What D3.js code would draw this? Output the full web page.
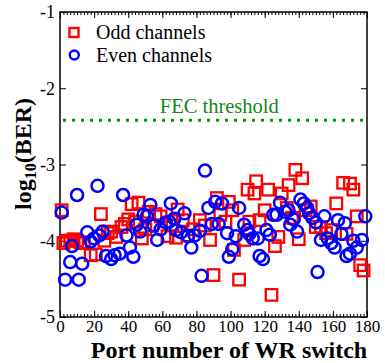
<!DOCTYPE html>
<html><head><meta charset="utf-8">
<script src="https://cdn.jsdelivr.net/npm/d3@7"></script>
<style>body{margin:0;background:#fff}</style>
</head><body>
<svg id="c" width="385" height="363"></svg>
<script>
const oddPorts = [1,2,4,6,8,10,12,14,18,21,24,26,28,30,33,36,38,40,42,44,46,48,50,52,54,56,59,63,66,68,69,72,75,78,82,85,88,90,92,94,97,99,101,102,105,108,110,111,114,115,117,120,122,124,126,128,130,133,134,136,138,140,142,144,147,150,153,156,159,162,166,168,170,172,174,176,178];
const oddBER = [-3.60,-4.03,-4.00,-4.00,-3.98,-4.00,-4.02,-4.03,-4.19,-4.18,-3.65,-4.00,-3.90,-3.88,-3.95,-3.82,-3.78,-3.72,-3.52,-3.75,-3.50,-3.97,-3.85,-3.62,-3.80,-3.65,-3.68,-3.94,-3.80,-3.96,-3.59,-3.73,-3.93,-3.85,-3.73,-3.80,-3.99,-4.45,-3.44,-3.66,-3.75,-3.49,-3.60,-4.12,-4.51,-3.99,-3.33,-3.75,-3.38,-3.22,-3.73,-3.60,-3.33,-4.71,-4.07,-3.95,-3.38,-3.57,-3.27,-3.70,-3.07,-3.98,-3.18,-3.60,-3.55,-3.82,-3.82,-3.90,-3.86,-3.51,-3.24,-3.91,-3.25,-3.33,-3.68,-4.32,-4.39];
const evenPorts = [1,3,6,7,10,11,13,16,18,20,22,23,25,27,30,32,35,37,39,41,43,45,47,49,51,53,55,57,59,62,64,65,67,68,71,73,75,77,79,82,83,85,87,89,91,93,95,98,99,101,103,105,108,110,111,113,116,117,119,121,123,125,127,129,132,134,135,137,139,141,143,145,146,148,150,151,153,155,157,159,161,163,165,167,168,170,172,174,177,179];
const evenBER = [-3.63,-4.51,-4.28,-4.07,-3.40,-4.51,-4.30,-3.89,-4.01,-3.97,-3.28,-3.93,-3.88,-4.20,-4.24,-4.19,-4.17,-3.40,-3.93,-4.09,-4.21,-3.79,-3.88,-3.66,-3.68,-3.53,-3.80,-3.99,-3.85,-3.76,-3.75,-3.51,-3.71,-3.86,-3.89,-3.64,-3.94,-4.09,-3.93,-3.87,-4.46,-3.08,-3.57,-3.78,-3.49,-3.78,-3.51,-3.90,-4.21,-4.11,-3.94,-3.57,-3.79,-3.86,-3.91,-3.97,-3.97,-4.20,-4.24,-3.86,-3.92,-3.66,-3.66,-3.50,-3.62,-3.60,-3.79,-3.72,-3.88,-3.46,-3.51,-3.57,-3.64,-3.70,-3.76,-4.41,-3.99,-3.68,-3.97,-4.03,-4.09,-3.73,-3.91,-3.77,-4.20,-4.17,-4.00,-4.09,-3.99,-3.68];
const fecThreshold = -2.42;
const xTicks = [0,20,40,60,80,100,120,140,160,180];
const yTicks = [-5,-4,-3,-2,-1];
const legendLabels = ["Odd channels","Even channels"];

const svg = d3.select("#c");
const L=60, R=367, T=12, B=317;
const x = d3.scaleLinear().domain([0,180]).range([L,R]);
const y = d3.scaleLinear().domain([-5,-1]).range([B,T]);
const font = "'Liberation Serif','Times New Roman',serif";

// frame
svg.append("rect").attr("x",L).attr("y",T).attr("width",R-L).attr("height",B-T)
  .attr("fill","none").attr("stroke","#000").attr("stroke-width",1.5);

// axes
const minor = d3.range(0,181,2);
const gb = svg.append("g").attr("transform",`translate(0,${B})`);
gb.call(d3.axisBottom(x).tickValues(minor).tickSize(-3).tickFormat(""));
gb.select(".domain").remove();
const gb2 = svg.append("g").attr("transform",`translate(0,${B})`);
gb2.call(d3.axisBottom(x).tickValues(xTicks).tickSize(-6).tickPadding(3).tickFormat(d3.format("d")));
gb2.select(".domain").remove();
gb2.selectAll("text").attr("font-family",font).attr("font-size",17).attr("fill","#000");
const gt = svg.append("g").attr("transform",`translate(0,${T})`);
gt.call(d3.axisTop(x).tickValues(minor).tickSize(-3).tickFormat(""));
gt.select(".domain").remove();
const gt2 = svg.append("g").attr("transform",`translate(0,${T})`);
gt2.call(d3.axisTop(x).tickValues(xTicks).tickSize(-6).tickFormat(""));
gt2.select(".domain").remove();
const gl = svg.append("g").attr("transform",`translate(${L},0)`);
gl.call(d3.axisLeft(y).tickValues(yTicks).tickSize(-6).tickPadding(5).tickFormat(d=>d3.format("d")(d).replace("−","-")));
gl.select(".domain").remove();
gl.selectAll("text").attr("font-family",font).attr("font-size",18).attr("fill","#000");
const gr = svg.append("g").attr("transform",`translate(${R},0)`);
gr.call(d3.axisRight(y).tickValues(yTicks).tickSize(-6).tickFormat(""));
gr.select(".domain").remove();
svg.selectAll(".tick line").attr("stroke","#000").attr("stroke-width",1);

// FEC threshold
svg.append("line").attr("x1",x(0)+3).attr("x2",x(180)-3).attr("y1",y(fecThreshold)).attr("y2",y(fecThreshold))
  .attr("stroke","#009900").attr("stroke-width",3).attr("stroke-dasharray","3,6");
svg.append("text").attr("x",x(58.5)).attr("y",y(fecThreshold)-7).attr("font-family",font).attr("font-size",20.5)
  .attr("fill","#118811").text("FEC threshold");

// points
const odd = oddPorts.map((p,i)=>({p,v:oddBER[i]}));
const even = evenPorts.map((p,i)=>({p,v:evenBER[i]}));
const s=11.5;
svg.append("g").selectAll("rect").data(odd).join("rect")
  .attr("x",d=>x(d.p)-s/2).attr("y",d=>y(d.v)-s/2).attr("width",s).attr("height",s)
  .attr("fill","none").attr("stroke","#ff0000").attr("stroke-width",2.3);
svg.append("g").selectAll("circle").data(even).join("circle")
  .attr("cx",d=>x(d.p)).attr("cy",d=>y(d.v)).attr("r",6)
  .attr("fill","none").attr("stroke","#0000ff").attr("stroke-width",2.5);

// legend
const lg = svg.append("g");
lg.append("rect").attr("x",69.5).attr("y",28).attr("width",9).attr("height",9)
  .attr("fill","none").attr("stroke","#ff0000").attr("stroke-width",2.4);
lg.append("circle").attr("cx",74.3).attr("cy",55).attr("r",4.5)
  .attr("fill","none").attr("stroke","#0000ff").attr("stroke-width",2.4);
lg.selectAll("text").data(legendLabels).join("text")
  .attr("x",96).attr("y",(d,i)=>38.5+i*23).attr("font-family",font).attr("font-size",20).attr("fill","#000").text(d=>d);

// axis titles
svg.append("text").attr("x",229).attr("y",358).attr("text-anchor","middle")
  .attr("font-family",font).attr("font-size",24).attr("font-weight","bold").text("Port number of WR switch");
const yl = svg.append("text").attr("transform",`translate(31,154) rotate(-90)`).attr("text-anchor","middle")
  .attr("font-family",font).attr("font-size",24).attr("font-weight","bold");
yl.append("tspan").text("log");
yl.append("tspan").attr("font-size",16).attr("dy",5).text("10");
yl.append("tspan").attr("dy",-5).text("(BER)");
</script>
</body></html>
